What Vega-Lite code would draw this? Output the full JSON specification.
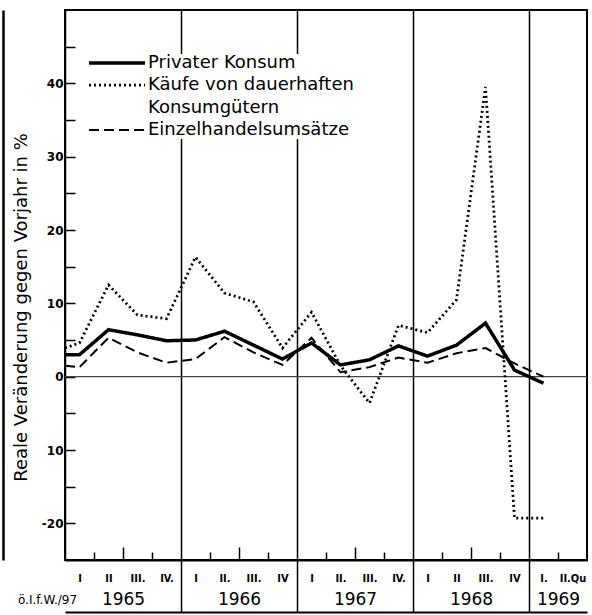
{
  "$schema": "https://vega.github.io/schema/vega-lite/v6.json",
  "width": 522,
  "height": 550,
  "autosize": {"type": "none"},
  "padding": {"left": 65, "top": 10, "right": 5, "bottom": 55},
  "background": "white",
  "config": {
    "font": "DejaVu Sans",
    "view": {"stroke": "black", "strokeWidth": 2},
    "axis": {"domainColor": "black", "tickColor": "black", "labelColor": "black", "titleColor": "black", "grid": false}
  },
  "resolve": {"axis": {"x": "independent", "y": "independent"}},
  "layer": [
    {
      "data": {"values": [{}]},
      "mark": {"type": "rule", "color": "#444", "strokeWidth": 1.2},
      "encoding": {
        "y": {
          "datum": 0, "type": "quantitative",
          "scale": {"domain": [-25, 50], "nice": false, "zero": false},
          "axis": {
            "orient": "left",
            "values": [-20, -15, -10, -5, 0, 5, 10, 15, 20, 25, 30, 35, 40, 45],
            "tickSize": -10, "tickWidth": 1.5, "domainWidth": 1.5,
            "labelExpr": "datum.value == -10 ? '10' : (datum.value == -20 ? '-20' : ((datum.value % 10 == 0 && datum.value <= 40) ? toString(datum.value) : ''))",
            "labelFontSize": 12, "labelFontWeight": "bold", "labelPadding": 12,
            "title": "Reale Veränderung gegen Vorjahr in %",
            "titleFontSize": 18, "titleFontWeight": "normal",
            "titleX": -35, "titleY": 297
          }
        },
        "x": {
          "datum": 1965, "type": "quantitative",
          "scale": {"domain": [1965, 1969.5], "nice": false, "zero": false},
          "axis": {
            "orient": "bottom",
            "values": [1965.25, 1965.5, 1965.75, 1966, 1966.25, 1966.5, 1966.75, 1967, 1967.25, 1967.5, 1967.75, 1968, 1968.25, 1968.5, 1968.75, 1969, 1969.25],
            "labels": false, "domain": true, "domainWidth": 2, "tickWidth": 1.5,
            "tickSize": {"condition": [{"test": "datum.value % 1 == 0", "value": 52}, {"test": "datum.value % 0.5 == 0", "value": -13}], "value": -8},
            "grid": true, "gridColor": "black", "gridWidth": 1.5,
            "gridOpacity": {"condition": {"test": "datum.value % 1 == 0", "value": 1}, "value": 0},
            "title": null
          }
        },
        "x2": {"datum": 1969.5}
      }
    },
    {
      "data": {"values": [
        {"t": 1965.0, "series": "Privater Konsum", "value": 3.0},
        {"t": 1965.125, "series": "Privater Konsum", "value": 3.0},
        {"t": 1965.375, "series": "Privater Konsum", "value": 6.4},
        {"t": 1965.625, "series": "Privater Konsum", "value": 5.7},
        {"t": 1965.875, "series": "Privater Konsum", "value": 4.9},
        {"t": 1966.125, "series": "Privater Konsum", "value": 5.0},
        {"t": 1966.375, "series": "Privater Konsum", "value": 6.2},
        {"t": 1966.625, "series": "Privater Konsum", "value": 4.3},
        {"t": 1966.875, "series": "Privater Konsum", "value": 2.4},
        {"t": 1967.125, "series": "Privater Konsum", "value": 4.6},
        {"t": 1967.375, "series": "Privater Konsum", "value": 1.6},
        {"t": 1967.625, "series": "Privater Konsum", "value": 2.3},
        {"t": 1967.875, "series": "Privater Konsum", "value": 4.2},
        {"t": 1968.125, "series": "Privater Konsum", "value": 2.8},
        {"t": 1968.375, "series": "Privater Konsum", "value": 4.3},
        {"t": 1968.625, "series": "Privater Konsum", "value": 7.3},
        {"t": 1968.875, "series": "Privater Konsum", "value": 0.9},
        {"t": 1969.125, "series": "Privater Konsum", "value": -0.9},
        {"t": 1965.0, "series": "Käufe von dauerhaften Konsumgütern", "value": 3.9},
        {"t": 1965.125, "series": "Käufe von dauerhaften Konsumgütern", "value": 4.6},
        {"t": 1965.375, "series": "Käufe von dauerhaften Konsumgütern", "value": 12.5},
        {"t": 1965.625, "series": "Käufe von dauerhaften Konsumgütern", "value": 8.4},
        {"t": 1965.875, "series": "Käufe von dauerhaften Konsumgütern", "value": 7.9},
        {"t": 1966.125, "series": "Käufe von dauerhaften Konsumgütern", "value": 16.3},
        {"t": 1966.375, "series": "Käufe von dauerhaften Konsumgütern", "value": 11.4},
        {"t": 1966.625, "series": "Käufe von dauerhaften Konsumgütern", "value": 10.2},
        {"t": 1966.875, "series": "Käufe von dauerhaften Konsumgütern", "value": 3.9},
        {"t": 1967.125, "series": "Käufe von dauerhaften Konsumgütern", "value": 8.8},
        {"t": 1967.375, "series": "Käufe von dauerhaften Konsumgütern", "value": 1.5},
        {"t": 1967.625, "series": "Käufe von dauerhaften Konsumgütern", "value": -3.6},
        {"t": 1967.875, "series": "Käufe von dauerhaften Konsumgütern", "value": 7.0},
        {"t": 1968.125, "series": "Käufe von dauerhaften Konsumgütern", "value": 6.0},
        {"t": 1968.375, "series": "Käufe von dauerhaften Konsumgütern", "value": 10.5},
        {"t": 1968.625, "series": "Käufe von dauerhaften Konsumgütern", "value": 39.5},
        {"t": 1968.875, "series": "Käufe von dauerhaften Konsumgütern", "value": -19.3},
        {"t": 1969.125, "series": "Käufe von dauerhaften Konsumgütern", "value": -19.3},
        {"t": 1965.0, "series": "Einzelhandelsumsätze", "value": 1.5},
        {"t": 1965.125, "series": "Einzelhandelsumsätze", "value": 1.3},
        {"t": 1965.375, "series": "Einzelhandelsumsätze", "value": 5.3},
        {"t": 1965.625, "series": "Einzelhandelsumsätze", "value": 3.3},
        {"t": 1965.875, "series": "Einzelhandelsumsätze", "value": 1.9},
        {"t": 1966.125, "series": "Einzelhandelsumsätze", "value": 2.4},
        {"t": 1966.375, "series": "Einzelhandelsumsätze", "value": 5.4},
        {"t": 1966.625, "series": "Einzelhandelsumsätze", "value": 3.3},
        {"t": 1966.875, "series": "Einzelhandelsumsätze", "value": 1.6},
        {"t": 1967.125, "series": "Einzelhandelsumsätze", "value": 5.3},
        {"t": 1967.375, "series": "Einzelhandelsumsätze", "value": 0.6},
        {"t": 1967.625, "series": "Einzelhandelsumsätze", "value": 1.3},
        {"t": 1967.875, "series": "Einzelhandelsumsätze", "value": 2.6},
        {"t": 1968.125, "series": "Einzelhandelsumsätze", "value": 1.9},
        {"t": 1968.375, "series": "Einzelhandelsumsätze", "value": 3.2},
        {"t": 1968.625, "series": "Einzelhandelsumsätze", "value": 3.9},
        {"t": 1968.875, "series": "Einzelhandelsumsätze", "value": 1.8},
        {"t": 1969.125, "series": "Einzelhandelsumsätze", "value": 0.0}
      ]},
      "mark": {"type": "line", "color": "black"},
      "encoding": {
        "x": {
          "field": "t", "type": "quantitative",
          "scale": {"domain": [1965, 1969.5], "nice": false, "zero": false},
          "axis": {
            "orient": "bottom", "offset": 52,
            "values": [1965, 1965.125, 1965.375, 1965.625, 1965.875, 1966.125, 1966.375, 1966.625, 1966.875, 1967.125, 1967.375, 1967.625, 1967.875, 1968.125, 1968.375, 1968.625, 1968.875, 1969.125, 1969.375, 1965.5, 1966.5, 1967.5, 1968.5, 1969.25],
            "ticks": false, "domain": true, "domainWidth": 2,
            "labelOverlap": false, "labelFlush": false, "labelBound": false,
            "labelExpr": "datum.value == 1965 ? 'ö.I.f.W./97' : (datum.value % 0.25 == 0 ? toString(floor(datum.value)) : ['I','II','III.','IV.','I','II.','III.','IV','I','II.','III.','IV.','I','II','III.','IV','I.','II.Qu'][floor((datum.value - 1965) * 4)])",
            "labelFont": {"condition": {"test": "datum.value % 0.25 != 0", "value": "DejaVu Sans Condensed"}, "value": "DejaVu Sans"},
            "labelFontWeight": {"condition": {"test": "datum.value % 0.25 != 0", "value": "bold"}, "value": "normal"},
            "labelFontSize": {"condition": [{"test": "datum.value == 1965", "value": 12}, {"test": "datum.value % 0.25 == 0", "value": 17}], "value": 11},
            "labelPadding": {"condition": [{"test": "datum.value == 1965", "value": -18}, {"test": "datum.value % 0.25 == 0", "value": -21}], "value": -40},
            "labelOffset": {"condition": {"test": "datum.value == 1965", "value": -18}, "value": 0},
            "title": null
          }
        },
        "y": {
          "field": "value", "type": "quantitative",
          "scale": {"domain": [-25, 50], "nice": false, "zero": false},
          "axis": {"orient": "left", "offset": 62, "domain": true, "domainWidth": 2.5, "ticks": false, "labels": false, "title": null}
        },
        "strokeDash": {
          "field": "series", "type": "nominal",
          "scale": {"domain": ["Privater Konsum", "Käufe von dauerhaften Konsumgütern", "Einzelhandelsumsätze"], "range": [[1, 0], [2, 3], [10, 5]]},
          "legend": {
            "title": null, "orient": "none", "legendX": 43, "legendY": 44,
            "symbolType": "M-4,0H4", "symbolSize": 196, "symbolStrokeColor": "black",
            "labelFontSize": 18, "labelFont": "DejaVu Sans", "labelOffset": 22, "rowPadding": 4,
            "labelLimit": 400, "fillColor": "white", "padding": 0,
            "labelExpr": "datum.label == 'Käufe von dauerhaften Konsumgütern' ? ['Käufe von dauerhaften', 'Konsumgütern'] : datum.label",
            "encode": {"labels": {"update": {"lineHeight": {"value": 23}}}}
          }
        },
        "strokeWidth": {
          "field": "series", "type": "nominal",
          "scale": {"domain": ["Privater Konsum", "Käufe von dauerhaften Konsumgütern", "Einzelhandelsumsätze"], "range": [3.5, 2, 1.5]},
          "legend": {
            "title": null, "orient": "none", "legendX": 43, "legendY": 44,
            "symbolType": "M-4,0H4", "symbolSize": 196, "symbolStrokeColor": "black",
            "labelFontSize": 18, "labelFont": "DejaVu Sans", "labelOffset": 22, "rowPadding": 4,
            "labelLimit": 400, "fillColor": "white", "padding": 0,
            "labelExpr": "datum.label == 'Käufe von dauerhaften Konsumgütern' ? ['Käufe von dauerhaften', 'Konsumgütern'] : datum.label",
            "encode": {"labels": {"update": {"lineHeight": {"value": 23}}}}
          }
        }
      }
    }
  ]
}
